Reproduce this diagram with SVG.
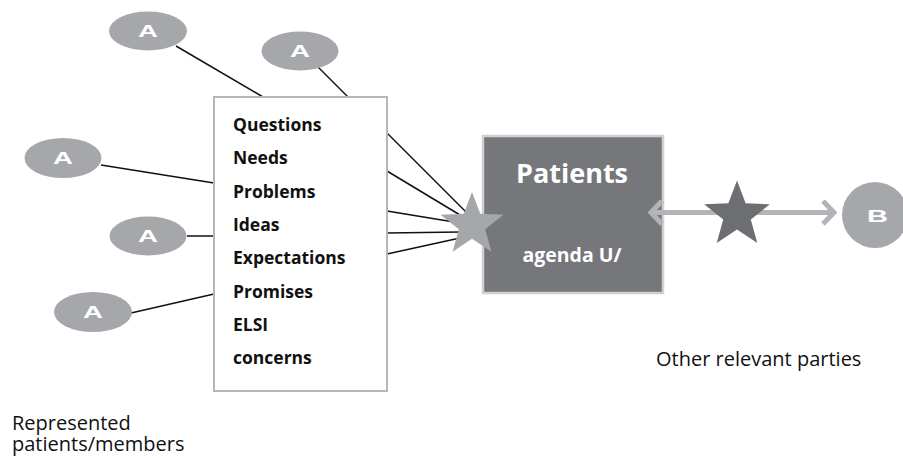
<svg xmlns="http://www.w3.org/2000/svg" width="903" height="458" viewBox="0 0 903 458">
  <style>
    .conn { stroke: #111; stroke-width: 1.5; fill: none; }
    .ell { fill: #a6a7aa; }
    .lbl { font-family: "Liberation Sans", Arial, sans-serif; font-weight: bold; fill: #fff; text-anchor: middle; }
    .item { font-family: "Open Sans", "Noto Sans", sans-serif; font-weight: bold; font-size: 17.5px; fill: #111; }
    .cap { font-family: "Open Sans", "Noto Sans", sans-serif; font-size: 20px; fill: #111; }
    .arrow { stroke: #b3b4b7; stroke-width: 5; fill: none; }
  </style>
  <defs>
    <path id="star" d="M0,-10 L2.5,-3.4 L9.511,-3.090 L4.0,1.3 L5.878,8.090 L0,4.2 L-5.878,8.090 L-4.0,1.3 L-9.511,-3.090 L-2.5,-3.4 Z"/>
    <marker id="chev" viewBox="0 0 16 26" refX="13" refY="13" markerWidth="16" markerHeight="26" markerUnits="userSpaceOnUse" orient="auto-start-reverse">
      <path d="M2,1.5 L13,13 L2,24.5" fill="none" stroke="#b3b4b7" stroke-width="5"/>
    </marker>
  </defs>

  <g id="connectors">
    <line class="conn" x1="176" y1="46" x2="263" y2="97"/>
    <line class="conn" x1="318" y1="67" x2="348" y2="97"/>
    <line class="conn" x1="101" y1="165" x2="214" y2="183"/>
    <line class="conn" x1="187" y1="236" x2="214" y2="236"/>
    <line class="conn" x1="131" y1="313" x2="214" y2="294"/>
    <line class="conn" x1="387" y1="133" x2="468" y2="214"/>
    <line class="conn" x1="387" y1="171" x2="465" y2="218"/>
    <line class="conn" x1="387" y1="211" x2="460" y2="223"/>
    <line class="conn" x1="387" y1="233" x2="460" y2="232"/>
    <line class="conn" x1="387" y1="254" x2="460" y2="238"/>
  </g>

  <g id="A1"><ellipse class="ell" cx="148" cy="31" rx="39" ry="19.5"/><text class="lbl" x="148" y="37" font-size="16" textLength="20" lengthAdjust="spacingAndGlyphs">A</text></g>
  <g id="A2"><ellipse class="ell" cx="300" cy="51" rx="38.5" ry="19.5"/><text class="lbl" x="300" y="57" font-size="16" textLength="20" lengthAdjust="spacingAndGlyphs">A</text></g>
  <g id="A3"><ellipse class="ell" cx="63" cy="158" rx="38.5" ry="20"/><text class="lbl" x="63" y="164" font-size="16" textLength="20" lengthAdjust="spacingAndGlyphs">A</text></g>
  <g id="A4"><ellipse class="ell" cx="148" cy="236" rx="38.5" ry="19.5"/><text class="lbl" x="148" y="242" font-size="16" textLength="20" lengthAdjust="spacingAndGlyphs">A</text></g>
  <g id="A5"><ellipse class="ell" cx="93" cy="312" rx="39" ry="20"/><text class="lbl" x="93" y="318" font-size="16" textLength="20" lengthAdjust="spacingAndGlyphs">A</text></g>

  <g id="list">
    <rect x="214" y="97" width="173" height="294" fill="#fff" stroke="#b5b6b8" stroke-width="2"/>
    <text class="item" x="233" y="131">Questions</text>
    <text class="item" x="233" y="164.3">Needs</text>
    <text class="item" x="233" y="197.6">Problems</text>
    <text class="item" x="233" y="231">Ideas</text>
    <text class="item" x="233" y="264.3">Expectations</text>
    <text class="item" x="233" y="297.6">Promises</text>
    <text class="item" x="233" y="331">ELSI</text>
    <text class="item" x="233" y="364.3">concerns</text>
  </g>

  <g id="patients">
    <rect x="483" y="136" width="180" height="157" fill="#76777a" stroke="#cfd0d2" stroke-width="2.5"/>
    <text x="572" y="183" font-family="'Open Sans', 'Noto Sans', sans-serif" font-weight="bold" font-size="27" fill="#fff" text-anchor="middle">Patients</text>
    <text x="572" y="261.5" font-family="'Open Sans', 'Noto Sans', sans-serif" font-weight="bold" font-size="19.5" fill="#fff" text-anchor="middle">agenda U/</text>
  </g>

  <g id="star-gray"><use href="#star" transform="translate(472,225) scale(3.3)" fill="#a6a7aa"/></g>

  <g id="link">
    <line class="arrow" x1="651" y1="212.5" x2="834" y2="212.5" marker-start="url(#chev)" marker-end="url(#chev)"/>
  </g>
  <g id="star-dark"><use href="#star" transform="translate(737,215) scale(3.45)" fill="#6d6e72"/></g>

  <g id="B"><circle cx="875" cy="215" r="33" fill="#a6a7aa"/><text class="lbl" x="877.5" y="221.5" font-size="16.5" textLength="21" lengthAdjust="spacingAndGlyphs">B</text></g>

  <text class="cap" x="656" y="366" font-size="19">Other relevant parties</text>
  <text class="cap" x="12" y="430">Represented</text>
  <text class="cap" x="12" y="451">patients/members</text>
</svg>
